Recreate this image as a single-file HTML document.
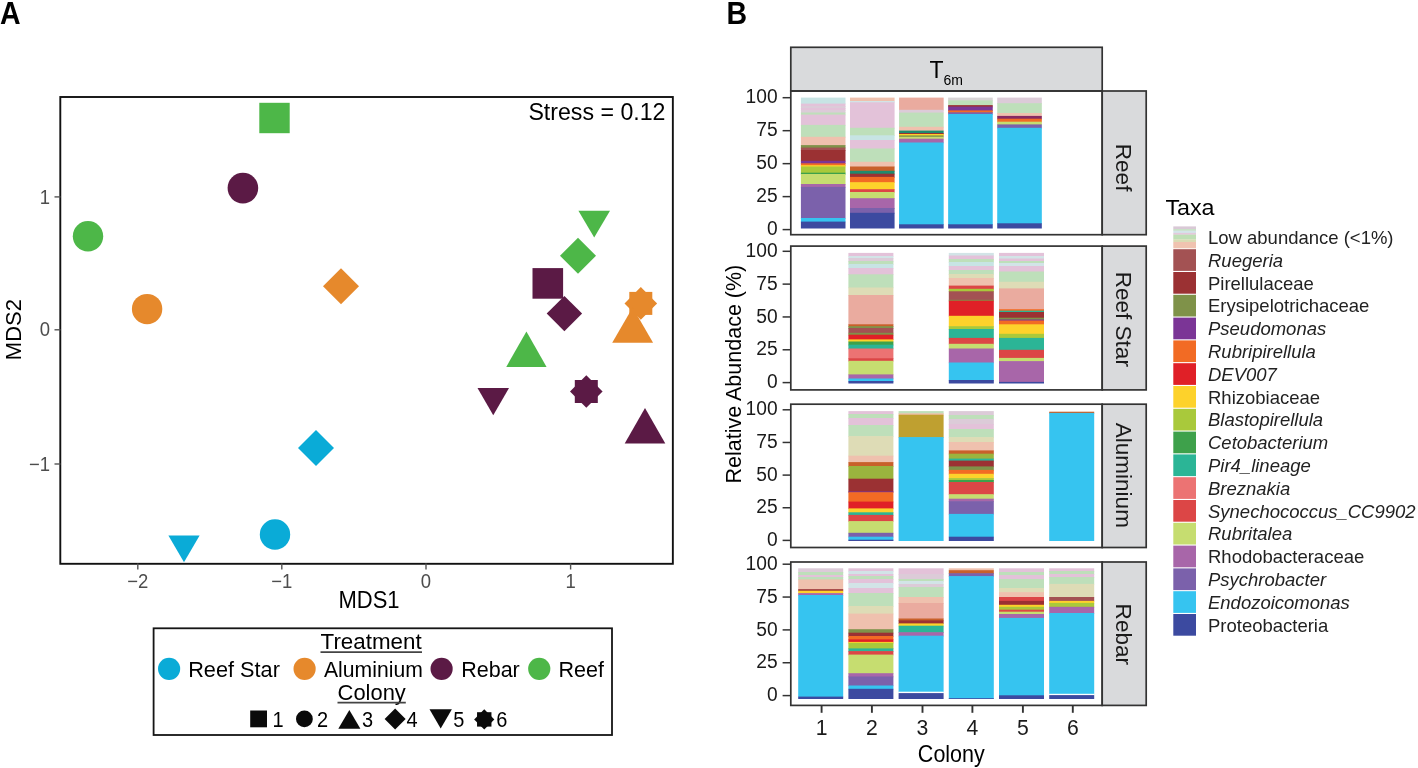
<!DOCTYPE html><html><head><meta charset="utf-8"><style>html,body{margin:0;padding:0;background:#fff;width:1418px;height:768px;overflow:hidden}svg{display:block;will-change:transform}text{font-family:"Liberation Sans", sans-serif}</style></head><body>
<svg width="1418" height="768" viewBox="0 0 1418 768">
<rect width="1418" height="768" fill="#fff"/>
<text transform="translate(0,24.2) scale(1.0,1.07)" font-size="28.5" text-anchor="start" fill="#000" font-weight="bold" font-style="normal">A</text>
<rect x="60.3" y="97.0" width="612.55" height="466.8" fill="none" stroke="#111" stroke-width="1.9"/>
<line x1="54.5" y1="196.9" x2="60.5" y2="196.9" stroke="#555" stroke-width="1.4"/>
<text transform="translate(50,203.5) scale(1.0,1.07)" font-size="18.5" text-anchor="end" fill="#4d4d4d" font-weight="normal" font-style="normal">1</text>
<line x1="54.5" y1="329.8" x2="60.5" y2="329.8" stroke="#555" stroke-width="1.4"/>
<text transform="translate(50,336.40000000000003) scale(1.0,1.07)" font-size="18.5" text-anchor="end" fill="#4d4d4d" font-weight="normal" font-style="normal">0</text>
<line x1="54.5" y1="464.0" x2="60.5" y2="464.0" stroke="#555" stroke-width="1.4"/>
<text transform="translate(50,470.6) scale(1.0,1.07)" font-size="18.5" text-anchor="end" fill="#4d4d4d" font-weight="normal" font-style="normal">−1</text>
<line x1="137.8" y1="563.5" x2="137.8" y2="569.5" stroke="#555" stroke-width="1.4"/>
<text transform="translate(137.8,587.6) scale(1.0,1.07)" font-size="18.5" text-anchor="middle" fill="#4d4d4d" font-weight="normal" font-style="normal">−2</text>
<line x1="281.8" y1="563.5" x2="281.8" y2="569.5" stroke="#555" stroke-width="1.4"/>
<text transform="translate(281.8,587.6) scale(1.0,1.07)" font-size="18.5" text-anchor="middle" fill="#4d4d4d" font-weight="normal" font-style="normal">−1</text>
<line x1="426.0" y1="563.5" x2="426.0" y2="569.5" stroke="#555" stroke-width="1.4"/>
<text transform="translate(426.0,587.6) scale(1.0,1.07)" font-size="18.5" text-anchor="middle" fill="#4d4d4d" font-weight="normal" font-style="normal">0</text>
<line x1="570.6" y1="563.5" x2="570.6" y2="569.5" stroke="#555" stroke-width="1.4"/>
<text transform="translate(570.6,587.6) scale(1.0,1.07)" font-size="18.5" text-anchor="middle" fill="#4d4d4d" font-weight="normal" font-style="normal">1</text>
<text transform="translate(369,607.6) scale(1.0,1.07)" font-size="22" text-anchor="middle" fill="#000" font-weight="normal" font-style="normal">MDS1</text>
<text transform="translate(20.8,329.6) rotate(-90) scale(1.0,1.0)" font-size="22" text-anchor="middle" fill="#000" font-weight="normal" font-style="normal">MDS2</text>
<text transform="translate(665.5,119.8) scale(1.03,1.07)" font-size="22.5" text-anchor="end" fill="#000" font-weight="normal" font-style="normal">Stress = 0.12</text>
<rect x="259.30" y="102.80" width="30.4" height="30.4" fill="#4db748"/><circle cx="242.9" cy="188.1" r="15.3" fill="#5b1a45"/><circle cx="88.0" cy="236.2" r="15.2" fill="#4db748"/><circle cx="147.1" cy="309.1" r="15.2" fill="#e6892c"/><polygon points="341,268.3 359,286.3 341,304.3 323,286.3" fill="#e6892c"/><polygon points="316,430 334,448 316,466 298,448" fill="#0aabd7"/><circle cx="275" cy="534.5" r="15.2" fill="#0aabd7"/><polygon points="168.4,535.5 199.6,535.5 184.00,562.3" fill="#0aabd7"/><polygon points="578.4,210.7 610,210.7 594.20,237.5" fill="#4db748"/><polygon points="578,237.8 596,255.8 578,273.8 560,255.8" fill="#4db748"/><rect x="532.50" y="268.10" width="30.6" height="30.6" fill="#5b1a45"/><polygon points="564.4,295.90000000000003 582.1,313.6 564.4,331.3 546.6999999999999,313.6" fill="#5b1a45"/><rect x="629.30" y="291.90" width="23.0" height="23.0" fill="#e6892c"/><polygon points="640.8,287.09999999999997 657.0999999999999,303.4 640.8,319.7 624.5,303.4" fill="#e6892c"/><polygon points="632.65,307.4 653.1,342.8 612.2,342.8" fill="#e6892c"/><polygon points="526.42,331.6 546.6,366.9 506.25,366.9" fill="#4db748"/><rect x="574.80" y="380.00" width="23.0" height="23.0" fill="#5b1a45"/><polygon points="586.3,375.2 602.5999999999999,391.5 586.3,407.8 570.0,391.5" fill="#5b1a45"/><polygon points="477.5,388 509,388 493.25,415.3" fill="#5b1a45"/><polygon points="645.00,408 665.3,443.4 624.7,443.4" fill="#5b1a45"/>
<rect x="153.6" y="628.3" width="458.4" height="106.7" fill="none" stroke="#151515" stroke-width="1.8"/>
<text transform="translate(320.6,649) scale(1.04,1.0)" font-size="21.5" text-anchor="start" fill="#000" font-weight="normal" font-style="normal">Treatment</text>
<line x1="320.5" y1="652.1" x2="422" y2="652.1" stroke="#444" stroke-width="1.8"/>
<circle cx="169.1" cy="668.8" r="11.1" fill="#0aabd7"/>
<text transform="translate(188.2,677.3) scale(1.01,1.0)" font-size="21.5" text-anchor="start" fill="#000" font-weight="normal" font-style="normal">Reef Star</text>
<circle cx="304.6" cy="668.8" r="11.1" fill="#e6892c"/>
<text transform="translate(324.0,677.3) scale(0.985,1.0)" font-size="21.5" text-anchor="start" fill="#000" font-weight="normal" font-style="normal">Aluminium</text>
<circle cx="441.6" cy="668.8" r="11.1" fill="#5b1a45"/>
<text transform="translate(461.2,677.3) scale(1.0,1.0)" font-size="21.5" text-anchor="start" fill="#000" font-weight="normal" font-style="normal">Rebar</text>
<circle cx="539.25" cy="668.8" r="11.1" fill="#4db748"/>
<text transform="translate(558.5,677.3) scale(1.0,1.0)" font-size="21.5" text-anchor="start" fill="#000" font-weight="normal" font-style="normal">Reef</text>
<text transform="translate(337.6,699.6) scale(1.02,1.0)" font-size="21.5" text-anchor="start" fill="#000" font-weight="normal" font-style="normal">Colony</text>
<line x1="337.5" y1="702.6" x2="405.8" y2="702.6" stroke="#444" stroke-width="1.8"/>
<rect x="250.20" y="710.50" width="16.8" height="16.8" fill="#0a0a0a"/><text transform="translate(272.5,726.7) scale(1.0,1.1)" font-size="20" text-anchor="start" fill="#000" font-weight="normal" font-style="normal">1</text><circle cx="304.4" cy="718.9" r="8.4" fill="#0a0a0a"/><text transform="translate(317,726.7) scale(1.0,1.1)" font-size="20" text-anchor="start" fill="#000" font-weight="normal" font-style="normal">2</text><polygon points="349.35,710 360.4,728.8 338.3,728.8" fill="#0a0a0a"/><text transform="translate(362,726.7) scale(1.0,1.1)" font-size="20" text-anchor="start" fill="#000" font-weight="normal" font-style="normal">3</text><polygon points="395.15,708.4 405.65,718.9 395.15,729.4 384.65,718.9" fill="#0a0a0a"/><text transform="translate(406.5,726.7) scale(1.0,1.1)" font-size="20" text-anchor="start" fill="#000" font-weight="normal" font-style="normal">4</text><polygon points="429.5,709.3 451.9,709.3 440.70,728.5" fill="#0a0a0a"/><text transform="translate(453.3,726.7) scale(1.0,1.1)" font-size="20" text-anchor="start" fill="#000" font-weight="normal" font-style="normal">5</text><rect x="477.05" y="712.20" width="14.4" height="14.4" fill="#0a0a0a"/><polygon points="484.25,709.3 494.35,719.4 484.25,729.5 474.15,719.4" fill="#0a0a0a"/><text transform="translate(496.3,726.7) scale(1.0,1.1)" font-size="20" text-anchor="start" fill="#000" font-weight="normal" font-style="normal">6</text>
<text transform="translate(726.5,24.2) scale(1.0,1.07)" font-size="28.5" text-anchor="start" fill="#000" font-weight="bold" font-style="normal">B</text>
<rect x="790.8" y="47.3" width="311.4000000000001" height="43.7" fill="#d9dadc" stroke="#333333" stroke-width="1.7"/>
<text transform="translate(929.6,77.6) scale(1.0,1.025)" font-size="23" text-anchor="start" fill="#000" font-weight="normal" font-style="normal">T</text>
<text transform="translate(943.4,85.2) scale(1.0,1.0)" font-size="14" text-anchor="start" fill="#000" font-weight="normal" font-style="normal">6m</text>
<rect x="800.90" y="97.6" width="44.60" height="6.70" fill="#c7e4e4"/>
<rect x="800.90" y="103.6" width="44.60" height="3.10" fill="#e3c2d9"/>
<rect x="800.90" y="106" width="44.60" height="2.70" fill="#dccbd8"/>
<rect x="800.90" y="108" width="44.60" height="2.70" fill="#e3c2d9"/>
<rect x="800.90" y="110" width="44.60" height="3.20" fill="#dccbd8"/>
<rect x="800.90" y="112.5" width="44.60" height="2.80" fill="#bedfba"/>
<rect x="800.90" y="114.6" width="44.60" height="11.00" fill="#e3c2d9"/>
<rect x="800.90" y="124.9" width="44.60" height="12.60" fill="#bedfba"/>
<rect x="800.90" y="136.8" width="44.60" height="9.00" fill="#efc1ae"/>
<rect x="800.90" y="145.1" width="44.60" height="3.20" fill="#7f9249"/>
<rect x="800.90" y="147.6" width="44.60" height="3.10" fill="#a35253"/>
<rect x="800.90" y="150" width="44.60" height="11.50" fill="#9b3133"/>
<rect x="800.90" y="160.8" width="44.60" height="3.20" fill="#7b3596"/>
<rect x="800.90" y="163.3" width="44.60" height="2.60" fill="#f26b24"/>
<rect x="800.90" y="165.2" width="44.60" height="2.00" fill="#fdd22b"/>
<rect x="800.90" y="166.5" width="44.60" height="6.90" fill="#a9c93b"/>
<rect x="800.90" y="172.7" width="44.60" height="2.00" fill="#3ea14b"/>
<rect x="800.90" y="174" width="44.60" height="10.70" fill="#c6dd70"/>
<rect x="800.90" y="184" width="44.60" height="3.60" fill="#a866a9"/>
<rect x="800.90" y="186.9" width="44.60" height="31.80" fill="#7b61ab"/>
<rect x="800.90" y="218" width="44.60" height="4.30" fill="#36c4f0"/>
<rect x="800.90" y="221.6" width="44.60" height="6.90" fill="#3c4aa0"/>
<rect x="849.98" y="97.6" width="44.60" height="4.10" fill="#efc1ae"/>
<rect x="849.98" y="101" width="44.60" height="2.00" fill="#d2e4e7"/>
<rect x="849.98" y="102.3" width="44.60" height="26.20" fill="#e3c2d9"/>
<rect x="849.98" y="127.8" width="44.60" height="8.20" fill="#bedfba"/>
<rect x="849.98" y="135.3" width="44.60" height="5.40" fill="#c7e4e4"/>
<rect x="849.98" y="140" width="44.60" height="9.20" fill="#e3c2d9"/>
<rect x="849.98" y="148.5" width="44.60" height="14.00" fill="#bedfba"/>
<rect x="849.98" y="161.8" width="44.60" height="5.40" fill="#efc1ae"/>
<rect x="849.98" y="166.5" width="44.60" height="5.00" fill="#c8602a"/>
<rect x="849.98" y="170.8" width="44.60" height="3.60" fill="#1f8a6e"/>
<rect x="849.98" y="173.7" width="44.60" height="3.90" fill="#9b3133"/>
<rect x="849.98" y="176.9" width="44.60" height="6.00" fill="#f26b24"/>
<rect x="849.98" y="182.2" width="44.60" height="7.70" fill="#fdd22b"/>
<rect x="849.98" y="189.2" width="44.60" height="3.50" fill="#dc4646"/>
<rect x="849.98" y="192" width="44.60" height="6.90" fill="#c6dd70"/>
<rect x="849.98" y="198.2" width="44.60" height="10.50" fill="#a866a9"/>
<rect x="849.98" y="208" width="44.60" height="5.50" fill="#7b61ab"/>
<rect x="849.98" y="212.8" width="44.60" height="15.70" fill="#3c4aa0"/>
<rect x="899.06" y="97.6" width="44.60" height="12.90" fill="#eaab9f"/>
<rect x="899.06" y="109.8" width="44.60" height="3.50" fill="#dccbd8"/>
<rect x="899.06" y="112.6" width="44.60" height="14.90" fill="#bedfba"/>
<rect x="899.06" y="126.8" width="44.60" height="4.50" fill="#efc1ae"/>
<rect x="899.06" y="130.6" width="44.60" height="3.10" fill="#1f8a6e"/>
<rect x="899.06" y="133" width="44.60" height="1.70" fill="#9b3133"/>
<rect x="899.06" y="134" width="44.60" height="2.10" fill="#fdd22b"/>
<rect x="899.06" y="135.4" width="44.60" height="2.10" fill="#7f9249"/>
<rect x="899.06" y="136.8" width="44.60" height="2.60" fill="#c6dd70"/>
<rect x="899.06" y="138.7" width="44.60" height="4.50" fill="#a866a9"/>
<rect x="899.06" y="142.5" width="44.60" height="82.50" fill="#36c4f0"/>
<rect x="899.06" y="224.3" width="44.60" height="4.20" fill="#3c4aa0"/>
<rect x="948.14" y="97.6" width="44.60" height="3.50" fill="#d8d4d6"/>
<rect x="948.14" y="100.4" width="44.60" height="5.40" fill="#bedfba"/>
<rect x="948.14" y="105.1" width="44.60" height="2.20" fill="#9b3133"/>
<rect x="948.14" y="106.6" width="44.60" height="4.50" fill="#7b3596"/>
<rect x="948.14" y="110.4" width="44.60" height="2.60" fill="#f26b24"/>
<rect x="948.14" y="112.3" width="44.60" height="2.40" fill="#7b61ab"/>
<rect x="948.14" y="114" width="44.60" height="111.00" fill="#36c4f0"/>
<rect x="948.14" y="224.3" width="44.60" height="4.20" fill="#3c4aa0"/>
<rect x="997.22" y="97.6" width="44.60" height="6.30" fill="#dccbd8"/>
<rect x="997.22" y="103.2" width="44.60" height="10.50" fill="#bedfba"/>
<rect x="997.22" y="113" width="44.60" height="3.60" fill="#efc1ae"/>
<rect x="997.22" y="115.9" width="44.60" height="3.50" fill="#862a62"/>
<rect x="997.22" y="118.7" width="44.60" height="3.70" fill="#f26b24"/>
<rect x="997.22" y="121.7" width="44.60" height="3.40" fill="#c6dd70"/>
<rect x="997.22" y="124.4" width="44.60" height="4.10" fill="#7b61ab"/>
<rect x="997.22" y="127.8" width="44.60" height="96.20" fill="#36c4f0"/>
<rect x="997.22" y="223.3" width="44.60" height="5.20" fill="#3c4aa0"/>
<rect x="790.8" y="91.0" width="311.40" height="143.70" fill="none" stroke="#333333" stroke-width="1.7"/>
<rect x="1102.2" y="91.0" width="44.00" height="143.70" fill="#d9dadc" stroke="#333333" stroke-width="1.7"/>
<text transform="translate(1116.0,167.6) rotate(90) scale(1.025,1.04)" font-size="22" text-anchor="middle" fill="#1a1a1a" font-weight="normal" font-style="normal">Reef</text>
<line x1="782.6" y1="229.60" x2="790.8" y2="229.60" stroke="#333333" stroke-width="1.5"/>
<text transform="translate(777.6,235.2) scale(1.0,1.04)" font-size="19.2" text-anchor="end" fill="#1a1a1a" font-weight="normal" font-style="normal">0</text>
<line x1="782.6" y1="196.62" x2="790.8" y2="196.62" stroke="#333333" stroke-width="1.5"/>
<text transform="translate(777.6,202.225) scale(1.0,1.04)" font-size="19.2" text-anchor="end" fill="#1a1a1a" font-weight="normal" font-style="normal">25</text>
<line x1="782.6" y1="163.65" x2="790.8" y2="163.65" stroke="#333333" stroke-width="1.5"/>
<text transform="translate(777.6,169.25) scale(1.0,1.04)" font-size="19.2" text-anchor="end" fill="#1a1a1a" font-weight="normal" font-style="normal">50</text>
<line x1="782.6" y1="130.68" x2="790.8" y2="130.68" stroke="#333333" stroke-width="1.5"/>
<text transform="translate(777.6,136.275) scale(1.0,1.04)" font-size="19.2" text-anchor="end" fill="#1a1a1a" font-weight="normal" font-style="normal">75</text>
<line x1="782.6" y1="97.70" x2="790.8" y2="97.70" stroke="#333333" stroke-width="1.5"/>
<text transform="translate(777.6,103.30000000000001) scale(1.0,1.04)" font-size="19.2" text-anchor="end" fill="#1a1a1a" font-weight="normal" font-style="normal">100</text>
<rect x="848.40" y="252.9" width="45.00" height="3.80" fill="#e3c2d9"/>
<rect x="848.40" y="256" width="45.00" height="2.70" fill="#d2e4e7"/>
<rect x="848.40" y="258" width="45.00" height="3.70" fill="#dccbd8"/>
<rect x="848.40" y="261" width="45.00" height="3.70" fill="#bedfba"/>
<rect x="848.40" y="264" width="45.00" height="4.70" fill="#c7e4e4"/>
<rect x="848.40" y="268" width="45.00" height="7.00" fill="#e3c2d9"/>
<rect x="848.40" y="274.3" width="45.00" height="13.90" fill="#bedfba"/>
<rect x="848.40" y="287.5" width="45.00" height="8.20" fill="#dedcb6"/>
<rect x="848.40" y="295" width="45.00" height="30.00" fill="#eaab9f"/>
<rect x="848.40" y="324.3" width="45.00" height="2.60" fill="#c8602a"/>
<rect x="848.40" y="326.2" width="45.00" height="2.50" fill="#7f9249"/>
<rect x="848.40" y="328" width="45.00" height="5.50" fill="#a35253"/>
<rect x="848.40" y="332.8" width="45.00" height="2.60" fill="#7f9249"/>
<rect x="848.40" y="334.7" width="45.00" height="5.40" fill="#e02027"/>
<rect x="848.40" y="339.4" width="45.00" height="2.80" fill="#fdd22b"/>
<rect x="848.40" y="341.5" width="45.00" height="3.90" fill="#3ea14b"/>
<rect x="848.40" y="344.7" width="45.00" height="4.50" fill="#2bb596"/>
<rect x="848.40" y="348.5" width="45.00" height="10.50" fill="#ec7373"/>
<rect x="848.40" y="358.3" width="45.00" height="3.20" fill="#dc4646"/>
<rect x="848.40" y="360.8" width="45.00" height="14.30" fill="#c6dd70"/>
<rect x="848.40" y="374.4" width="45.00" height="4.80" fill="#a866a9"/>
<rect x="848.40" y="378.5" width="45.00" height="3.20" fill="#36c4f0"/>
<rect x="848.40" y="381" width="45.00" height="2.50" fill="#3c4aa0"/>
<rect x="948.80" y="252.9" width="45.00" height="3.30" fill="#d2e4e7"/>
<rect x="948.80" y="255.5" width="45.00" height="4.20" fill="#e3c2d9"/>
<rect x="948.80" y="259" width="45.00" height="3.70" fill="#bedfba"/>
<rect x="948.80" y="262" width="45.00" height="4.70" fill="#c7e4e4"/>
<rect x="948.80" y="266" width="45.00" height="4.70" fill="#e3c2d9"/>
<rect x="948.80" y="270" width="45.00" height="4.70" fill="#bedfba"/>
<rect x="948.80" y="274" width="45.00" height="4.70" fill="#dedcb6"/>
<rect x="948.80" y="278" width="45.00" height="8.30" fill="#efc1ae"/>
<rect x="948.80" y="285.6" width="45.00" height="3.90" fill="#dc4646"/>
<rect x="948.80" y="288.8" width="45.00" height="3.20" fill="#a9c93b"/>
<rect x="948.80" y="291.3" width="45.00" height="9.20" fill="#a35253"/>
<rect x="948.80" y="299.8" width="45.00" height="1.60" fill="#7f9249"/>
<rect x="948.80" y="300.7" width="45.00" height="15.80" fill="#e02027"/>
<rect x="948.80" y="315.8" width="45.00" height="11.10" fill="#fdd22b"/>
<rect x="948.80" y="326.2" width="45.00" height="3.50" fill="#a9c93b"/>
<rect x="948.80" y="329" width="45.00" height="9.60" fill="#2bb596"/>
<rect x="948.80" y="337.9" width="45.00" height="6.60" fill="#dc4646"/>
<rect x="948.80" y="343.8" width="45.00" height="5.40" fill="#c6dd70"/>
<rect x="948.80" y="348.5" width="45.00" height="14.70" fill="#a866a9"/>
<rect x="948.80" y="362.5" width="45.00" height="18.20" fill="#36c4f0"/>
<rect x="948.80" y="380" width="45.00" height="3.50" fill="#3c4aa0"/>
<rect x="999.00" y="252.9" width="45.00" height="3.80" fill="#e3c2d9"/>
<rect x="999.00" y="256" width="45.00" height="3.20" fill="#d2e4e7"/>
<rect x="999.00" y="258.5" width="45.00" height="3.20" fill="#e3c2d9"/>
<rect x="999.00" y="261" width="45.00" height="2.70" fill="#bedfba"/>
<rect x="999.00" y="263" width="45.00" height="3.70" fill="#d2e4e7"/>
<rect x="999.00" y="266" width="45.00" height="6.20" fill="#e3c2d9"/>
<rect x="999.00" y="271.5" width="45.00" height="11.00" fill="#bedfba"/>
<rect x="999.00" y="281.8" width="45.00" height="7.30" fill="#dedcb6"/>
<rect x="999.00" y="288.4" width="45.00" height="21.50" fill="#eaab9f"/>
<rect x="999.00" y="309.2" width="45.00" height="2.20" fill="#f26b24"/>
<rect x="999.00" y="310.7" width="45.00" height="2.00" fill="#2bb596"/>
<rect x="999.00" y="312" width="45.00" height="6.40" fill="#9b3133"/>
<rect x="999.00" y="317.7" width="45.00" height="2.50" fill="#7f9249"/>
<rect x="999.00" y="319.5" width="45.00" height="1.70" fill="#7b3596"/>
<rect x="999.00" y="320.5" width="45.00" height="4.50" fill="#f26b24"/>
<rect x="999.00" y="324.3" width="45.00" height="10.20" fill="#fdd22b"/>
<rect x="999.00" y="333.8" width="45.00" height="4.80" fill="#a9c93b"/>
<rect x="999.00" y="337.9" width="45.00" height="12.60" fill="#2bb596"/>
<rect x="999.00" y="349.8" width="45.00" height="8.80" fill="#dc4646"/>
<rect x="999.00" y="357.9" width="45.00" height="3.90" fill="#c6dd70"/>
<rect x="999.00" y="361.1" width="45.00" height="21.50" fill="#a866a9"/>
<rect x="999.00" y="381.9" width="45.00" height="1.60" fill="#3c4aa0"/>
<rect x="790.8" y="246.1" width="311.40" height="143.80" fill="none" stroke="#333333" stroke-width="1.7"/>
<rect x="1102.2" y="246.1" width="44.00" height="143.80" fill="#d9dadc" stroke="#333333" stroke-width="1.7"/>
<text transform="translate(1116.0,319.3) rotate(90) scale(1.025,1.04)" font-size="22" text-anchor="middle" fill="#1a1a1a" font-weight="normal" font-style="normal">Reef Star</text>
<line x1="782.6" y1="382.60" x2="790.8" y2="382.60" stroke="#333333" stroke-width="1.5"/>
<text transform="translate(777.6,388.20000000000005) scale(1.0,1.04)" font-size="19.2" text-anchor="end" fill="#1a1a1a" font-weight="normal" font-style="normal">0</text>
<line x1="782.6" y1="349.78" x2="790.8" y2="349.78" stroke="#333333" stroke-width="1.5"/>
<text transform="translate(777.6,355.37500000000006) scale(1.0,1.04)" font-size="19.2" text-anchor="end" fill="#1a1a1a" font-weight="normal" font-style="normal">25</text>
<line x1="782.6" y1="316.95" x2="790.8" y2="316.95" stroke="#333333" stroke-width="1.5"/>
<text transform="translate(777.6,322.55000000000007) scale(1.0,1.04)" font-size="19.2" text-anchor="end" fill="#1a1a1a" font-weight="normal" font-style="normal">50</text>
<line x1="782.6" y1="284.12" x2="790.8" y2="284.12" stroke="#333333" stroke-width="1.5"/>
<text transform="translate(777.6,289.725) scale(1.0,1.04)" font-size="19.2" text-anchor="end" fill="#1a1a1a" font-weight="normal" font-style="normal">75</text>
<line x1="782.6" y1="251.30" x2="790.8" y2="251.30" stroke="#333333" stroke-width="1.5"/>
<text transform="translate(777.6,256.90000000000003) scale(1.0,1.04)" font-size="19.2" text-anchor="end" fill="#1a1a1a" font-weight="normal" font-style="normal">100</text>
<rect x="848.40" y="411.1" width="45.00" height="3.60" fill="#e3c2d9"/>
<rect x="848.40" y="414" width="45.00" height="4.70" fill="#bedfba"/>
<rect x="848.40" y="418" width="45.00" height="7.70" fill="#e3c2d9"/>
<rect x="848.40" y="425" width="45.00" height="11.80" fill="#bedfba"/>
<rect x="848.40" y="436.1" width="45.00" height="20.30" fill="#dedcb6"/>
<rect x="848.40" y="455.7" width="45.00" height="7.10" fill="#efc1ae"/>
<rect x="848.40" y="462.1" width="45.00" height="4.60" fill="#c8602a"/>
<rect x="848.40" y="466" width="45.00" height="13.40" fill="#9ab43e"/>
<rect x="848.40" y="478.7" width="45.00" height="13.40" fill="#9b3133"/>
<rect x="848.40" y="491.4" width="45.00" height="1.50" fill="#7b3596"/>
<rect x="848.40" y="492.2" width="45.00" height="10.10" fill="#f26b24"/>
<rect x="848.40" y="501.6" width="45.00" height="7.50" fill="#e02027"/>
<rect x="848.40" y="508.4" width="45.00" height="4.60" fill="#fdd22b"/>
<rect x="848.40" y="512.3" width="45.00" height="3.30" fill="#2bb596"/>
<rect x="848.40" y="514.9" width="45.00" height="6.90" fill="#dc4646"/>
<rect x="848.40" y="521.1" width="45.00" height="12.40" fill="#c6dd70"/>
<rect x="848.40" y="532.8" width="45.00" height="4.60" fill="#7b61ab"/>
<rect x="848.40" y="536.7" width="45.00" height="3.70" fill="#36c4f0"/>
<rect x="848.40" y="539.7" width="45.00" height="1.30" fill="#3c4aa0"/>
<rect x="898.60" y="411.1" width="45.00" height="2.90" fill="#bedfba"/>
<rect x="898.60" y="413.3" width="45.00" height="2.10" fill="#efc1ae"/>
<rect x="898.60" y="414.7" width="45.00" height="23.10" fill="#bfa030"/>
<rect x="898.60" y="437.1" width="45.00" height="103.90" fill="#36c4f0"/>
<rect x="948.80" y="411.1" width="45.00" height="4.60" fill="#dccbd8"/>
<rect x="948.80" y="415" width="45.00" height="4.70" fill="#bedfba"/>
<rect x="948.80" y="419" width="45.00" height="5.70" fill="#dccbd8"/>
<rect x="948.80" y="424" width="45.00" height="5.70" fill="#e3c2d9"/>
<rect x="948.80" y="429" width="45.00" height="8.80" fill="#bedfba"/>
<rect x="948.80" y="437.1" width="45.00" height="5.60" fill="#dedcb6"/>
<rect x="948.80" y="442" width="45.00" height="9.10" fill="#efc1ae"/>
<rect x="948.80" y="450.4" width="45.00" height="4.00" fill="#c8602a"/>
<rect x="948.80" y="453.7" width="45.00" height="5.60" fill="#9ab43e"/>
<rect x="948.80" y="458.6" width="45.00" height="2.70" fill="#2bb596"/>
<rect x="948.80" y="460.6" width="45.00" height="6.50" fill="#9b3133"/>
<rect x="948.80" y="466.4" width="45.00" height="4.20" fill="#7f9249"/>
<rect x="948.80" y="469.9" width="45.00" height="4.60" fill="#f26b24"/>
<rect x="948.80" y="473.8" width="45.00" height="5.00" fill="#fdd22b"/>
<rect x="948.80" y="478.1" width="45.00" height="2.60" fill="#a9c93b"/>
<rect x="948.80" y="480" width="45.00" height="2.70" fill="#3ea14b"/>
<rect x="948.80" y="482" width="45.00" height="12.90" fill="#dc4646"/>
<rect x="948.80" y="494.2" width="45.00" height="5.20" fill="#c6dd70"/>
<rect x="948.80" y="498.7" width="45.00" height="3.20" fill="#a866a9"/>
<rect x="948.80" y="501.2" width="45.00" height="13.40" fill="#7b61ab"/>
<rect x="948.80" y="513.9" width="45.00" height="23.50" fill="#36c4f0"/>
<rect x="948.80" y="536.7" width="45.00" height="4.30" fill="#3c4aa0"/>
<rect x="1049.20" y="411.7" width="45.00" height="1.90" fill="#c8602a"/>
<rect x="1049.20" y="412.9" width="45.00" height="128.10" fill="#36c4f0"/>
<rect x="790.8" y="404.2" width="311.40" height="143.30" fill="none" stroke="#333333" stroke-width="1.7"/>
<rect x="1102.2" y="404.2" width="44.00" height="143.30" fill="#d9dadc" stroke="#333333" stroke-width="1.7"/>
<text transform="translate(1116.0,475.3) rotate(90) scale(1.025,1.04)" font-size="22" text-anchor="middle" fill="#1a1a1a" font-weight="normal" font-style="normal">Aluminium</text>
<line x1="782.6" y1="540.40" x2="790.8" y2="540.40" stroke="#333333" stroke-width="1.5"/>
<text transform="translate(777.6,546.0) scale(1.0,1.04)" font-size="19.2" text-anchor="end" fill="#1a1a1a" font-weight="normal" font-style="normal">0</text>
<line x1="782.6" y1="507.75" x2="790.8" y2="507.75" stroke="#333333" stroke-width="1.5"/>
<text transform="translate(777.6,513.35) scale(1.0,1.04)" font-size="19.2" text-anchor="end" fill="#1a1a1a" font-weight="normal" font-style="normal">25</text>
<line x1="782.6" y1="475.10" x2="790.8" y2="475.10" stroke="#333333" stroke-width="1.5"/>
<text transform="translate(777.6,480.70000000000005) scale(1.0,1.04)" font-size="19.2" text-anchor="end" fill="#1a1a1a" font-weight="normal" font-style="normal">50</text>
<line x1="782.6" y1="442.45" x2="790.8" y2="442.45" stroke="#333333" stroke-width="1.5"/>
<text transform="translate(777.6,448.05) scale(1.0,1.04)" font-size="19.2" text-anchor="end" fill="#1a1a1a" font-weight="normal" font-style="normal">75</text>
<line x1="782.6" y1="409.80" x2="790.8" y2="409.80" stroke="#333333" stroke-width="1.5"/>
<text transform="translate(777.6,415.40000000000003) scale(1.0,1.04)" font-size="19.2" text-anchor="end" fill="#1a1a1a" font-weight="normal" font-style="normal">100</text>
<rect x="798.20" y="568.3" width="45.00" height="4.40" fill="#dccbd8"/>
<rect x="798.20" y="572" width="45.00" height="3.70" fill="#bedfba"/>
<rect x="798.20" y="575" width="45.00" height="2.70" fill="#e3c2d9"/>
<rect x="798.20" y="577" width="45.00" height="3.10" fill="#bedfba"/>
<rect x="798.20" y="579.4" width="45.00" height="10.50" fill="#efc1ae"/>
<rect x="798.20" y="589.2" width="45.00" height="2.20" fill="#9b3133"/>
<rect x="798.20" y="590.7" width="45.00" height="3.10" fill="#fdd22b"/>
<rect x="798.20" y="593.1" width="45.00" height="2.60" fill="#a866a9"/>
<rect x="798.20" y="595" width="45.00" height="102.30" fill="#36c4f0"/>
<rect x="798.20" y="696.6" width="45.00" height="2.40" fill="#3c4aa0"/>
<rect x="848.40" y="568.3" width="45.00" height="3.40" fill="#e3c2d9"/>
<rect x="848.40" y="571" width="45.00" height="3.70" fill="#d2e4e7"/>
<rect x="848.40" y="574" width="45.00" height="2.70" fill="#e3c2d9"/>
<rect x="848.40" y="576" width="45.00" height="3.70" fill="#bedfba"/>
<rect x="848.40" y="579" width="45.00" height="4.70" fill="#e3c2d9"/>
<rect x="848.40" y="583" width="45.00" height="5.70" fill="#d2e4e7"/>
<rect x="848.40" y="588" width="45.00" height="5.70" fill="#e3c2d9"/>
<rect x="848.40" y="593" width="45.00" height="13.70" fill="#bedfba"/>
<rect x="848.40" y="606" width="45.00" height="8.30" fill="#dedcb6"/>
<rect x="848.40" y="613.6" width="45.00" height="16.30" fill="#efc1ae"/>
<rect x="848.40" y="629.2" width="45.00" height="4.20" fill="#7f9249"/>
<rect x="848.40" y="632.7" width="45.00" height="4.00" fill="#9b3133"/>
<rect x="848.40" y="636" width="45.00" height="4.10" fill="#f26b24"/>
<rect x="848.40" y="639.4" width="45.00" height="3.20" fill="#e02027"/>
<rect x="848.40" y="641.9" width="45.00" height="1.70" fill="#fdd22b"/>
<rect x="848.40" y="642.9" width="45.00" height="6.20" fill="#a9c93b"/>
<rect x="848.40" y="648.4" width="45.00" height="3.40" fill="#2bb596"/>
<rect x="848.40" y="651.1" width="45.00" height="4.20" fill="#dc4646"/>
<rect x="848.40" y="654.6" width="45.00" height="19.30" fill="#c6dd70"/>
<rect x="848.40" y="673.2" width="45.00" height="4.00" fill="#a866a9"/>
<rect x="848.40" y="676.5" width="45.00" height="9.70" fill="#7b61ab"/>
<rect x="848.40" y="685.5" width="45.00" height="4.00" fill="#36c4f0"/>
<rect x="848.40" y="688.8" width="45.00" height="10.20" fill="#3c4aa0"/>
<rect x="898.60" y="568.3" width="45.00" height="6.40" fill="#e3c2d9"/>
<rect x="898.60" y="574" width="45.00" height="5.70" fill="#dccbd8"/>
<rect x="898.60" y="579" width="45.00" height="2.70" fill="#bedfba"/>
<rect x="898.60" y="581" width="45.00" height="3.70" fill="#d2e4e7"/>
<rect x="898.60" y="584" width="45.00" height="3.70" fill="#dccbd8"/>
<rect x="898.60" y="587" width="45.00" height="10.70" fill="#bedfba"/>
<rect x="898.60" y="597" width="45.00" height="6.70" fill="#efc1ae"/>
<rect x="898.60" y="603" width="45.00" height="16.20" fill="#eaab9f"/>
<rect x="898.60" y="618.5" width="45.00" height="2.60" fill="#c8602a"/>
<rect x="898.60" y="620.4" width="45.00" height="3.70" fill="#9b3133"/>
<rect x="898.60" y="623.4" width="45.00" height="3.00" fill="#fdd22b"/>
<rect x="898.60" y="625.7" width="45.00" height="7.20" fill="#2bb596"/>
<rect x="898.60" y="632.2" width="45.00" height="4.20" fill="#a866a9"/>
<rect x="898.60" y="635.7" width="45.00" height="56.70" fill="#36c4f0"/>
<rect x="898.60" y="691.7" width="45.00" height="2.10" fill="#ffffff"/>
<rect x="898.60" y="693.1" width="45.00" height="5.90" fill="#3c4aa0"/>
<rect x="948.80" y="568.3" width="45.00" height="2.60" fill="#efc1ae"/>
<rect x="948.80" y="570.2" width="45.00" height="3.70" fill="#c8602a"/>
<rect x="948.80" y="573.2" width="45.00" height="3.60" fill="#7b61ab"/>
<rect x="948.80" y="576.1" width="45.00" height="122.80" fill="#36c4f0"/>
<rect x="948.80" y="698.2" width="45.00" height="0.80" fill="#3c4aa0"/>
<rect x="999.00" y="568.3" width="45.00" height="4.40" fill="#e3c2d9"/>
<rect x="999.00" y="572" width="45.00" height="3.70" fill="#bedfba"/>
<rect x="999.00" y="575" width="45.00" height="4.70" fill="#e3c2d9"/>
<rect x="999.00" y="579" width="45.00" height="9.70" fill="#bedfba"/>
<rect x="999.00" y="588" width="45.00" height="4.80" fill="#dedcb6"/>
<rect x="999.00" y="592.1" width="45.00" height="5.60" fill="#efc1ae"/>
<rect x="999.00" y="597" width="45.00" height="4.60" fill="#dc4646"/>
<rect x="999.00" y="600.9" width="45.00" height="4.60" fill="#9b3133"/>
<rect x="999.00" y="604.8" width="45.00" height="2.70" fill="#fdd22b"/>
<rect x="999.00" y="606.8" width="45.00" height="3.60" fill="#a9c93b"/>
<rect x="999.00" y="609.7" width="45.00" height="2.70" fill="#dc4646"/>
<rect x="999.00" y="611.7" width="45.00" height="3.00" fill="#c6dd70"/>
<rect x="999.00" y="614" width="45.00" height="4.60" fill="#a866a9"/>
<rect x="999.00" y="617.9" width="45.00" height="78.10" fill="#36c4f0"/>
<rect x="999.00" y="695.3" width="45.00" height="3.70" fill="#3c4aa0"/>
<rect x="1049.20" y="568.3" width="45.00" height="3.40" fill="#e3c2d9"/>
<rect x="1049.20" y="571" width="45.00" height="3.70" fill="#bedfba"/>
<rect x="1049.20" y="574" width="45.00" height="3.70" fill="#e3c2d9"/>
<rect x="1049.20" y="577" width="45.00" height="7.60" fill="#bedfba"/>
<rect x="1049.20" y="583.9" width="45.00" height="13.80" fill="#dedcb6"/>
<rect x="1049.20" y="597" width="45.00" height="4.60" fill="#a35253"/>
<rect x="1049.20" y="600.9" width="45.00" height="2.70" fill="#fdd22b"/>
<rect x="1049.20" y="602.9" width="45.00" height="4.60" fill="#a9c93b"/>
<rect x="1049.20" y="606.8" width="45.00" height="6.90" fill="#a866a9"/>
<rect x="1049.20" y="613" width="45.00" height="81.50" fill="#36c4f0"/>
<rect x="1049.20" y="693.8" width="45.00" height="2.00" fill="#ffffff"/>
<rect x="1049.20" y="695.1" width="45.00" height="3.90" fill="#3c4aa0"/>
<rect x="790.8" y="562.0" width="311.40" height="143.40" fill="none" stroke="#333333" stroke-width="1.7"/>
<rect x="1102.2" y="562.0" width="44.00" height="143.40" fill="#d9dadc" stroke="#333333" stroke-width="1.7"/>
<text transform="translate(1116.0,634.3) rotate(90) scale(1.025,1.04)" font-size="22" text-anchor="middle" fill="#1a1a1a" font-weight="normal" font-style="normal">Rebar</text>
<line x1="782.6" y1="695.60" x2="790.8" y2="695.60" stroke="#333333" stroke-width="1.5"/>
<text transform="translate(777.6,701.2) scale(1.0,1.04)" font-size="19.2" text-anchor="end" fill="#1a1a1a" font-weight="normal" font-style="normal">0</text>
<line x1="782.6" y1="662.75" x2="790.8" y2="662.75" stroke="#333333" stroke-width="1.5"/>
<text transform="translate(777.6,668.35) scale(1.0,1.04)" font-size="19.2" text-anchor="end" fill="#1a1a1a" font-weight="normal" font-style="normal">25</text>
<line x1="782.6" y1="629.90" x2="790.8" y2="629.90" stroke="#333333" stroke-width="1.5"/>
<text transform="translate(777.6,635.5000000000001) scale(1.0,1.04)" font-size="19.2" text-anchor="end" fill="#1a1a1a" font-weight="normal" font-style="normal">50</text>
<line x1="782.6" y1="597.05" x2="790.8" y2="597.05" stroke="#333333" stroke-width="1.5"/>
<text transform="translate(777.6,602.6500000000001) scale(1.0,1.04)" font-size="19.2" text-anchor="end" fill="#1a1a1a" font-weight="normal" font-style="normal">75</text>
<line x1="782.6" y1="564.20" x2="790.8" y2="564.20" stroke="#333333" stroke-width="1.5"/>
<text transform="translate(777.6,569.8000000000001) scale(1.0,1.04)" font-size="19.2" text-anchor="end" fill="#1a1a1a" font-weight="normal" font-style="normal">100</text>
<line x1="821.6" y1="705.4" x2="821.6" y2="712.8" stroke="#333333" stroke-width="1.9"/>
<text transform="translate(821.6,734.9) scale(1.0,1.04)" font-size="21.2" text-anchor="middle" fill="#1a1a1a" font-weight="normal" font-style="normal">1</text>
<line x1="871.9" y1="705.4" x2="871.9" y2="712.8" stroke="#333333" stroke-width="1.9"/>
<text transform="translate(871.9,734.9) scale(1.0,1.04)" font-size="21.2" text-anchor="middle" fill="#1a1a1a" font-weight="normal" font-style="normal">2</text>
<line x1="922.5" y1="705.4" x2="922.5" y2="712.8" stroke="#333333" stroke-width="1.9"/>
<text transform="translate(922.5,734.9) scale(1.0,1.04)" font-size="21.2" text-anchor="middle" fill="#1a1a1a" font-weight="normal" font-style="normal">3</text>
<line x1="972.4" y1="705.4" x2="972.4" y2="712.8" stroke="#333333" stroke-width="1.9"/>
<text transform="translate(972.4,734.9) scale(1.0,1.04)" font-size="21.2" text-anchor="middle" fill="#1a1a1a" font-weight="normal" font-style="normal">4</text>
<line x1="1022.9" y1="705.4" x2="1022.9" y2="712.8" stroke="#333333" stroke-width="1.9"/>
<text transform="translate(1022.9,734.9) scale(1.0,1.04)" font-size="21.2" text-anchor="middle" fill="#1a1a1a" font-weight="normal" font-style="normal">5</text>
<line x1="1072.8" y1="705.4" x2="1072.8" y2="712.8" stroke="#333333" stroke-width="1.9"/>
<text transform="translate(1072.8,734.9) scale(1.0,1.04)" font-size="21.2" text-anchor="middle" fill="#1a1a1a" font-weight="normal" font-style="normal">6</text>
<text transform="translate(951.3,761.5) scale(1.0,1.07)" font-size="21.5" text-anchor="middle" fill="#000" font-weight="normal" font-style="normal">Colony</text>
<text transform="translate(741,374.1) rotate(-90) scale(1.015,1.07)" font-size="21.2" text-anchor="middle" fill="#000" font-weight="normal" font-style="normal">Relative Abundace (%)</text>
<text transform="translate(1165.4,215.1) scale(1.03,1.01)" font-size="22.6" text-anchor="start" fill="#000" font-weight="normal" font-style="normal">Taxa</text>
<rect x="1173.3" y="226.40" width="22.7" height="2.80" fill="#d9c9d6"/>
<rect x="1173.3" y="229.00" width="22.7" height="1.94" fill="#c8e2c6"/>
<rect x="1173.3" y="230.74" width="22.7" height="2.37" fill="#d4e5e9"/>
<rect x="1173.3" y="232.91" width="22.7" height="1.94" fill="#e5c8dc"/>
<rect x="1173.3" y="234.65" width="22.7" height="4.97" fill="#bfdfb5"/>
<rect x="1173.3" y="239.42" width="22.7" height="2.80" fill="#d9dcb4"/>
<rect x="1173.3" y="242.02" width="22.7" height="6.28" fill="#f0c3b0"/>
<text transform="translate(1208,244.05) scale(1.0,1.04)" font-size="18.5" text-anchor="start" fill="#222" font-weight="normal" font-style="normal">Low abundance (&lt;1%)</text>
<rect x="1173.3" y="249.20" width="22.7" height="21.70" fill="#a35253"/>
<text transform="translate(1208,266.85) scale(1.0,1.04)" font-size="18.5" text-anchor="start" fill="#222" font-weight="normal" font-style="italic">Ruegeria</text>
<rect x="1173.3" y="272.00" width="22.7" height="21.70" fill="#9b3133"/>
<text transform="translate(1208,289.65000000000003) scale(1.0,1.04)" font-size="18.5" text-anchor="start" fill="#222" font-weight="normal" font-style="normal">Pirellulaceae</text>
<rect x="1173.3" y="294.80" width="22.7" height="21.70" fill="#7f9249"/>
<text transform="translate(1208,312.45000000000005) scale(1.0,1.04)" font-size="18.5" text-anchor="start" fill="#222" font-weight="normal" font-style="normal">Erysipelotrichaceae</text>
<rect x="1173.3" y="317.60" width="22.7" height="21.70" fill="#7b3596"/>
<text transform="translate(1208,335.25000000000006) scale(1.0,1.04)" font-size="18.5" text-anchor="start" fill="#222" font-weight="normal" font-style="italic">Pseudomonas</text>
<rect x="1173.3" y="340.40" width="22.7" height="21.70" fill="#f26b24"/>
<text transform="translate(1208,358.05) scale(1.0,1.04)" font-size="18.5" text-anchor="start" fill="#222" font-weight="normal" font-style="italic">Rubripirellula</text>
<rect x="1173.3" y="363.20" width="22.7" height="21.70" fill="#e02027"/>
<text transform="translate(1208,380.8500000000001) scale(1.0,1.04)" font-size="18.5" text-anchor="start" fill="#222" font-weight="normal" font-style="italic">DEV007</text>
<rect x="1173.3" y="386.00" width="22.7" height="21.70" fill="#fdd22b"/>
<text transform="translate(1208,403.65000000000003) scale(1.0,1.04)" font-size="18.5" text-anchor="start" fill="#222" font-weight="normal" font-style="normal">Rhizobiaceae</text>
<rect x="1173.3" y="408.80" width="22.7" height="21.70" fill="#a9c93b"/>
<text transform="translate(1208,426.45000000000005) scale(1.0,1.04)" font-size="18.5" text-anchor="start" fill="#222" font-weight="normal" font-style="italic">Blastopirellula</text>
<rect x="1173.3" y="431.60" width="22.7" height="21.70" fill="#3ea14b"/>
<text transform="translate(1208,449.25000000000006) scale(1.0,1.04)" font-size="18.5" text-anchor="start" fill="#222" font-weight="normal" font-style="italic">Cetobacterium</text>
<rect x="1173.3" y="454.40" width="22.7" height="21.70" fill="#2bb596"/>
<text transform="translate(1208,472.05) scale(1.0,1.04)" font-size="18.5" text-anchor="start" fill="#222" font-weight="normal" font-style="italic">Pir4_lineage</text>
<rect x="1173.3" y="477.20" width="22.7" height="21.70" fill="#ec7373"/>
<text transform="translate(1208,494.8500000000001) scale(1.0,1.04)" font-size="18.5" text-anchor="start" fill="#222" font-weight="normal" font-style="italic">Breznakia</text>
<rect x="1173.3" y="500.00" width="22.7" height="21.70" fill="#dc4646"/>
<text transform="translate(1208,517.65) scale(1.0,1.04)" font-size="18.5" text-anchor="start" fill="#222" font-weight="normal" font-style="italic">Synechococcus_CC9902</text>
<rect x="1173.3" y="522.80" width="22.7" height="21.70" fill="#c6dd70"/>
<text transform="translate(1208,540.45) scale(1.0,1.04)" font-size="18.5" text-anchor="start" fill="#222" font-weight="normal" font-style="italic">Rubritalea</text>
<rect x="1173.3" y="545.60" width="22.7" height="21.70" fill="#a866a9"/>
<text transform="translate(1208,563.25) scale(1.0,1.04)" font-size="18.5" text-anchor="start" fill="#222" font-weight="normal" font-style="normal">Rhodobacteraceae</text>
<rect x="1173.3" y="568.40" width="22.7" height="21.70" fill="#7b61ab"/>
<text transform="translate(1208,586.05) scale(1.0,1.04)" font-size="18.5" text-anchor="start" fill="#222" font-weight="normal" font-style="italic">Psychrobacter</text>
<rect x="1173.3" y="591.20" width="22.7" height="21.70" fill="#36c4f0"/>
<text transform="translate(1208,608.85) scale(1.0,1.04)" font-size="18.5" text-anchor="start" fill="#222" font-weight="normal" font-style="italic">Endozoicomonas</text>
<rect x="1173.3" y="614.00" width="22.7" height="21.70" fill="#3c4aa0"/>
<text transform="translate(1208,631.65) scale(1.0,1.04)" font-size="18.5" text-anchor="start" fill="#222" font-weight="normal" font-style="normal">Proteobacteria</text>
</svg></body></html>
